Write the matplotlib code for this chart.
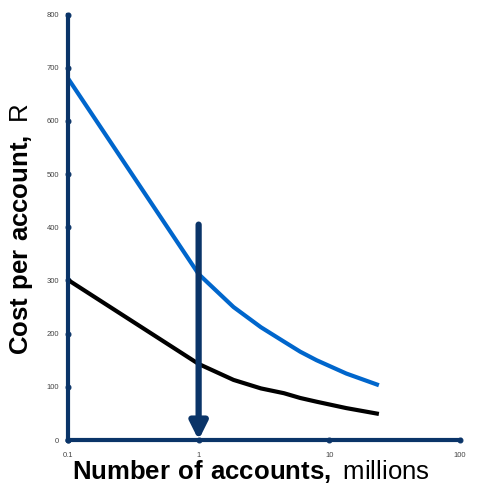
import matplotlib
matplotlib.use("Agg")
import matplotlib.pyplot as plt
from matplotlib.ticker import FixedLocator, FixedFormatter, NullLocator

plt.rcParams['font.family'] = ['Liberation Sans', 'DejaVu Sans']
plt.rcParams['mathtext.fontset'] = 'custom'
plt.rcParams['mathtext.rm'] = 'Liberation Sans'
plt.rcParams['mathtext.bf'] = 'Liberation Sans:bold'

# cost curves (millions of accounts vs rand per account)
accounts = [0.1, 1, 1.85, 3, 4.5, 6, 8, 13.5, 24]
cost_high = [680, 312, 250, 212, 185, 166, 150, 125, 103]
cost_low = [301, 143, 113, 97, 88, 79, 72, 60, 49]

x_ticks = [0.1, 1, 10, 100]
x_tick_labels = ['0.1', '1', '10', '100']
y_ticks = [0, 100, 200, 300, 400, 500, 600, 700, 800]

# marker arrow at 1 million accounts
arrow_x = 1
arrow_top = 405

navy = '#0a3468'

fig = plt.figure(figsize=(4.79, 4.93), dpi=100)
ax = fig.add_axes([0.142, 0.1075, 0.818, 0.863])

ax.plot(accounts, cost_high, color='#0066cc', lw=3, solid_capstyle='butt')
ax.plot(accounts, cost_low, color='black', lw=3, solid_capstyle='butt')

ax.annotate('', xy=(arrow_x, 0), xytext=(arrow_x, arrow_top),
            arrowprops=dict(arrowstyle='-|>', lw=4.5, color=navy,
                            mutation_scale=26, shrinkA=0, shrinkB=0))

ax.set_xscale('log')
ax.set_xlim(0.1, 100)
ax.set_ylim(0, 800)
ax.xaxis.set_major_locator(FixedLocator(x_ticks))
ax.xaxis.set_major_formatter(FixedFormatter(x_tick_labels))
ax.xaxis.set_minor_locator(NullLocator())
ax.set_yticks(y_ticks)

for side in ['top', 'right']:
    ax.spines[side].set_visible(False)
for side in ['left', 'bottom']:
    ax.spines[side].set_color(navy)
    ax.spines[side].set_linewidth(3)

ax.tick_params(labelsize=5.5, labelcolor='#444444', pad=3)
ax.tick_params(axis='x', pad=5)
# round dots instead of tick dashes
for t in ax.xaxis.get_major_ticks() + ax.yaxis.get_major_ticks():
    t.tick1line.set_marker('o')
    t.tick1line.set_markersize(3.5)
    t.tick1line.set_color(navy)
    t.tick1line.set_markeredgecolor(navy)

fig.text(0.150, 0.0284, r'$\bf{Number\ of\ accounts,}$ millions',
         ha='left', va='baseline', fontsize=18.5)
fig.text(0.016, 0.28, r'$\bf{Cost\ per\ account,}$ R',
         ha='left', va='bottom', rotation=90, fontsize=18.5)

fig.savefig('out.png', dpi=100)
